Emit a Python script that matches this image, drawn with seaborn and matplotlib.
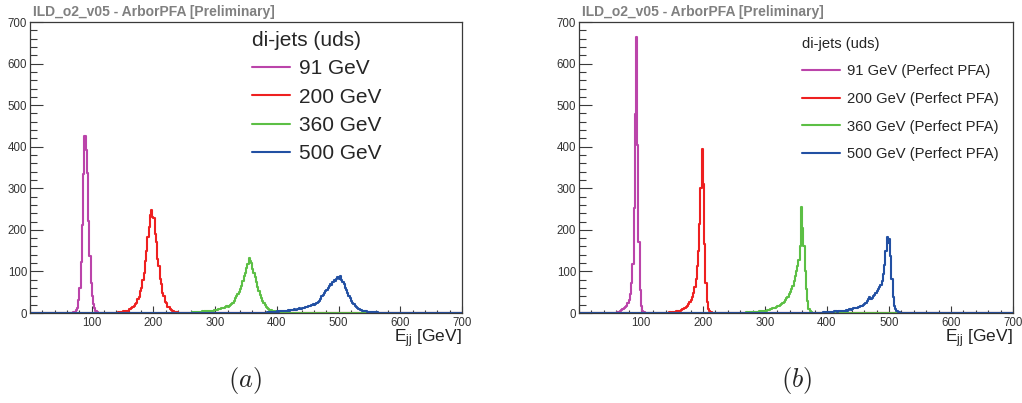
import numpy as np
import pandas as pd
import seaborn as sns
import matplotlib.pyplot as plt
from matplotlib.ticker import MultipleLocator, FuncFormatter
from matplotlib.lines import Line2D

# Histogram binning (GeV), shared by every sample
BIN = 2
E_MAX = 700

# (a) ArborPFA - bin contents starting at the given left edge
a91_start = 70
a91 = [2, 3, 8, 13, 31, 60, 122, 212, 335, 425, 392, 336, 222, 138, 72, 41, 21, 13, 5, 3]

a200_start = 140
a200 = [1, 2, 1, 3, 2, 4, 3, 5, 6, 5,
        9, 10, 11, 15, 16, 22, 25, 33, 39, 52,
        60, 80, 96, 124, 148, 183, 207, 236, 248, 232,
        228, 190, 170, 131, 112, 82, 69, 48, 40, 27,
        23, 15, 14, 9, 8, 5, 5, 3, 3, 2,
        1, 1]

a360_start = 250
a360 = [1, 0, 1, 1, 1, 1, 2, 1, 2, 2,
        2, 3, 3, 2, 4, 3, 4, 4, 5, 4,
        5, 4, 6, 5, 7, 8, 7, 9, 10, 9,
        11, 12, 13, 14, 16, 15, 18, 20, 22, 25,
        30, 36, 41, 45, 51, 57, 66, 78, 88, 97,
        108, 119, 133, 126, 120, 107, 96, 86, 74, 62,
        52, 43, 35, 29, 24, 19, 15, 12, 10, 8,
        7, 6, 5, 4, 3, 3, 2, 2, 1, 1]

a500_start = 380
a500 = [1, 1, 2, 1, 2, 2, 3, 2, 3, 3,
        4, 3, 4, 5, 4, 5, 6, 5, 6, 7,
        6, 7, 8, 7, 9, 8, 10, 9, 11, 10,
        12, 11, 13, 15, 14, 16, 18, 17, 20, 22,
        20, 22, 25, 27, 30, 34, 40, 44, 48, 52,
        56, 60, 64, 70, 68, 75, 79, 76, 83, 86,
        82, 88, 79, 74, 69, 60, 56, 47, 42, 35,
        30, 25, 21, 17, 14, 12, 10, 8, 7, 6,
        5, 4, 4, 3, 3, 3, 2, 2, 2, 2,
        1, 2, 1, 1, 1, 1, 0, 1, 0, 1,
        1, 0, 1, 0, 0, 1, 0, 0, 1, 0]

# (b) Perfect PFA
b91_start = 60
b91 = [1, 2, 3, 4, 7, 9, 11, 15, 18, 25, 31, 46, 71, 118, 252, 478, 664, 405, 172, 56, 16, 5, 2, 1]

b200_start = 140
b200 = [1, 1, 1, 2, 1, 2, 3, 3, 4, 4,
        5, 6, 7, 9, 10, 12, 14, 18, 21, 26,
        31, 38, 47, 63, 81, 112, 150, 215, 300, 395,
        310, 165, 72, 27, 10, 4, 2, 1, 0, 1]

b360_start = 260
b360 = [1, 1, 0, 1, 1, 2, 1, 2, 2, 2,
        2, 3, 2, 3, 3, 4, 4, 5, 4, 5,
        6, 6, 7, 8, 9, 10, 11, 12, 13, 15,
        16, 18, 20, 22, 25, 27, 31, 35, 39, 45,
        51, 58, 66, 76, 88, 100, 112, 128, 160, 254,
        205, 160, 100, 58, 28, 10, 4, 2, 1, 0]

b500_start = 390
b500 = [1, 1, 2, 1, 2, 2, 3, 2, 3, 3,
        3, 4, 4, 3, 5, 4, 5, 6, 5, 6,
        7, 6, 8, 9, 8, 10, 11, 12, 11, 13,
        15, 14, 17, 18, 20, 22, 25, 29, 33, 38,
        34, 37, 41, 44, 49, 52, 57, 62, 68, 77,
        93, 116, 150, 182, 168, 178, 136, 82, 38, 17,
        9, 5, 3, 2, 1, 1, 1, 0, 1, 0]

labels_a = ["91 GeV", "200 GeV", "360 GeV", "500 GeV"]
labels_b = ["91 GeV (Perfect PFA)", "200 GeV (Perfect PFA)",
            "360 GeV (Perfect PFA)", "500 GeV (Perfect PFA)"]
colors = ["#bb44aa", "#ee2020", "#5cbf45", "#2250a3"]

panel_a = [(a91_start, a91), (a200_start, a200), (a360_start, a360), (a500_start, a500)]
panel_b = [(b91_start, b91), (b200_start, b200), (b360_start, b360), (b500_start, b500)]

n_bins = E_MAX // BIN
centers = np.arange(n_bins) * BIN + BIN / 2


def full_hist(start, counts):
    # pad with empty bins over the whole 0-700 GeV range
    h = np.zeros(n_bins)
    i0 = start // BIN
    h[i0:i0 + len(counts)] = counts
    return h


sns.set_style("ticks")
plt.rcParams["font.family"] = ["Liberation Sans", "DejaVu Sans"]
plt.rcParams["mathtext.fontset"] = "cm"

fig = plt.figure(figsize=(10.22, 4.03), dpi=100)
ax_a = fig.add_axes([0.0294, 0.2233, 0.4227, 0.7221])
ax_b = fig.add_axes([0.5665, 0.2233, 0.4247, 0.7221])

frame_col = "#3a3a3a"
for ax, panel in [(ax_a, panel_a), (ax_b, panel_b)]:
    for (start, counts), col in zip(panel, colors):
        df = pd.DataFrame({"E": centers, "n": full_hist(start, counts)})
        sns.histplot(data=df, x="E", weights="n", binwidth=BIN, binrange=(0, E_MAX),
                     element="step", fill=False, color=col, lw=1.5, ax=ax)

    ax.set_xlim(0, 700)
    ax.set_ylim(0, 700)
    ax.set_xlabel("")
    ax.set_ylabel("")
    ax.xaxis.set_major_locator(MultipleLocator(100))
    ax.xaxis.set_minor_locator(MultipleLocator(20))
    ax.yaxis.set_major_locator(MultipleLocator(100))
    ax.yaxis.set_minor_locator(MultipleLocator(20))
    ax.xaxis.set_major_formatter(FuncFormatter(lambda v, p: "" if v == 0 else f"{v:.0f}"))
    ax.tick_params(axis="both", which="both", direction="in", colors=frame_col,
                   labelsize=8.3, labelcolor="#333333", width=0.8)
    ax.tick_params(axis="y", which="major", length=9.4, pad=2)
    ax.tick_params(axis="y", which="minor", length=4.7)
    ax.tick_params(axis="x", which="major", length=5, pad=3)
    ax.tick_params(axis="x", which="minor", length=2.5)
    for s in ax.spines.values():
        s.set_visible(True)
        s.set_color(frame_col)
        s.set_linewidth(0.9)
    ax.text(1.0, -0.102, r"$\mathregular{E_{jj}}$ [GeV]", transform=ax.transAxes,
            ha="right", va="baseline", fontsize=12.5, color="#222222")
    ax.text(0.007, 1.035, "ILD_o2_v05 - ArborPFA [Preliminary]", transform=ax.transAxes,
            ha="left", va="center", fontsize=10, fontweight="bold", color="#808080")

# legends
h_a = [Line2D([], [], color=c, lw=1.5) for c in colors]
ax_a.legend(h_a, labels_a, title="di-jets (uds)", loc="upper left",
            bbox_to_anchor=(0.514, 0.968), frameon=False, fontsize=15,
            title_fontsize=15, alignment="left", handlelength=1.8,
            handletextpad=0.45, labelspacing=0.44, borderpad=0, borderaxespad=0)
h_b = [Line2D([], [], color=c, lw=1.5) for c in colors]
ax_b.legend(h_b, labels_b, title="di-jets (uds)", loc="upper left",
            bbox_to_anchor=(0.513, 0.95), frameon=False, fontsize=10.6,
            title_fontsize=10.6, alignment="left", handlelength=2.6,
            handletextpad=0.5, labelspacing=0.93, borderpad=0, borderaxespad=0)

fig.text(245 / 1022, 1 - 381 / 403, r"$(a)$", ha="center", va="center", fontsize=19)
fig.text(797 / 1022, 1 - 381 / 403, r"$(b)$", ha="center", va="center", fontsize=19)

fig.savefig("out.png", dpi=100)
